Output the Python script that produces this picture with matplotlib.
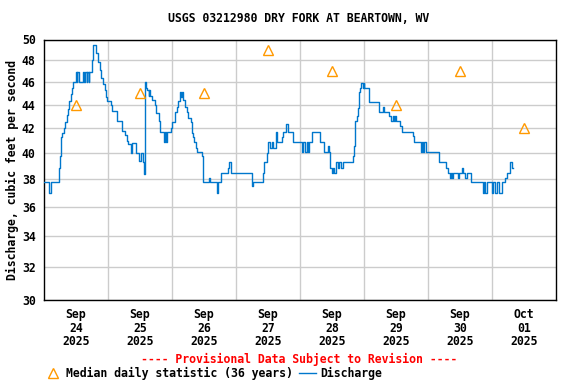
import numpy as np
import matplotlib
matplotlib.use("Agg")
import matplotlib.pyplot as plt
import matplotlib.dates as mdates
from matplotlib.lines import Line2D
from matplotlib.ticker import FixedLocator, NullLocator, FixedFormatter
import datetime as dt

title = "USGS 03212980 DRY FORK AT BEARTOWN, WV"
start = dt.datetime(2025, 9, 24, 0, 0)

# Discharge (step breakpoints): hours after Sep 24 00:00, value in cfs
q_hours = [0, 1.9, 2.75, 5.75, 6, 6.5, 6.9, 7.5, 7.75, 8.5, 9, 9.4, 10, 10.5, 10.75,
           11.9, 12.2, 12.5, 13.0, 14.6, 15.0, 15.5, 16.0, 16.3, 16.7, 17.0, 17.5, 17.9, 18.5,
           19.6, 20.25, 20.9, 21.5, 22.1, 22.75, 23.25, 23.5, 25, 25.6, 27.5, 29.4, 30.5,
           31, 31.5, 32.5, 33.1, 34.4, 35.6, 36.25, 37.25, 37.6, 37.7, 38.1, 38.75, 39.2,
           39.5, 39.75, 40.6, 41.5, 42.1, 43, 43.6, 45, 45.4, 45.8, 46.25,
           47.25, 47.5, 48.1, 49.1, 49.75, 50.4, 51, 51.1, 51.5, 51.7, 52.0, 52.25, 52.9,
           53.5, 54.1, 55, 55.4, 56, 56.4, 57, 57.25, 59.1, 59.5, 59.75, 62, 62.25,
           64.75, 65, 65.4, 66.4, 69.1, 69.5, 70, 77.9, 78.2, 82, 82.6, 83.5, 84.1,
           84.75, 85.4, 86, 87, 87.5, 89.1, 89.5, 90.75, 91.6, 93.25,
           96.75, 97.25, 98, 98.5, 98.9, 99.5, 100.5, 103.5, 105.1, 106.4, 106.75,
           107.4, 107.9, 108.5, 108.9, 109.5, 110.1, 110.75, 111.4, 112, 115.75,
           116.1, 116.6, 116.75, 117.25, 117.6, 118, 118.25, 118.6, 119, 119.5, 119.9,
           120.1, 122, 125.75, 127.25, 127.6, 129.5, 130.1, 130.75, 131.4, 131.75, 132,
           133.6, 134.25, 138.25, 138.9, 141.4, 141.75, 142.2, 142.6, 143.25,
           148, 150.9, 151.4, 152.1, 152.6, 153, 153.25, 155.25, 155.75, 156.75, 157,
           158, 158.6, 160.1, 164.6, 165.1, 165.5, 166.1, 168, 168.4, 169.25, 169.9,
           170.5, 171.75, 173, 173.6, 174.6, 174.9, 175.5, 175.75]
q_values = [37.8, 37.0, 37.8, 38.9, 39.8, 41.3, 41.6, 42.05, 42.5, 43.1, 43.6, 44.3, 44.9, 45.5, 46.0,
            46.9, 46.0, 46.9, 46.0, 46.9, 46.0, 46.9, 46.0, 46.9, 46.0, 46.9, 46.9, 48.0, 49.5,
            48.7, 47.8, 47.1, 46.4, 45.8, 45.3, 44.7, 44.3, 44.0, 43.5, 42.6, 41.8, 41.5,
            41.0, 40.7, 40.05, 40.8, 40.05, 39.4, 40.05, 39.3, 38.4, 46.0, 45.5, 45.3, 44.8,
            45.3, 44.8, 44.4, 44.0, 43.3, 42.6, 41.7, 40.9, 41.7, 40.9, 41.7,
            41.7, 42.0, 42.5, 43.4, 43.8, 44.3, 44.7, 45.1, 44.7, 45.1, 44.7, 44.4, 43.8,
            43.4, 42.9, 42.5, 41.6, 41.3, 40.9, 40.4, 40.1, 39.8, 39.3, 37.8, 38.1, 37.8,
            37.5, 37.0, 37.8, 38.5, 38.9, 39.3, 38.5, 37.5, 37.8, 38.5, 39.3, 40.0, 40.9,
            40.4, 40.9, 40.4, 41.7, 40.9, 41.3, 41.7, 42.4, 41.7, 40.9,
            40.1, 40.9, 40.1, 40.9, 40.1, 40.9, 41.7, 40.9, 40.1, 40.6, 40.1,
            38.9, 38.5, 38.9, 38.5, 39.3, 38.9, 39.3, 38.9, 39.3, 39.8,
            40.6, 40.9, 42.6, 43.0, 43.7, 44.3, 45.1, 45.5, 45.9, 45.5, 45.9,
            45.5, 44.2, 43.4, 43.8, 43.4, 43.0, 42.6, 43.0, 42.6, 43.0, 42.6,
            42.2, 41.7, 41.4, 40.9, 40.1, 40.9, 40.1, 40.9, 40.1,
            39.3, 38.9, 38.5, 38.1, 38.5, 38.1, 38.5, 38.1, 38.5, 38.9, 38.5,
            38.1, 38.5, 37.8, 37.0, 37.8, 37.0, 37.8, 37.0, 37.8, 37.0, 37.8,
            37.0, 37.8, 38.1, 38.5, 38.9, 39.3, 38.9, 38.9]

# Median daily statistic (36 years), plotted at noon
median_days = ["2025-09-24", "2025-09-25", "2025-09-26", "2025-09-27",
               "2025-09-28", "2025-09-29", "2025-09-30", "2025-10-01"]
median_values = [44.0, 45.0, 45.0, 49.0, 47.0, 44.0, 47.0, 42.0]

x_tick_labels = ["Sep\n24\n2025", "Sep\n25\n2025", "Sep\n26\n2025", "Sep\n27\n2025",
                 "Sep\n28\n2025", "Sep\n29\n2025", "Sep\n30\n2025", "Oct\n01\n2025"]
y_ticks = [30, 32, 34, 36, 38, 40, 42, 44, 46, 48, 50]

FONT = "DejaVu Sans Mono"
FS = 8.3
plt.rcParams["font.family"] = FONT
plt.rcParams["font.weight"] = "bold"

fig = plt.figure(figsize=(5.76, 3.84), dpi=100)
ax = fig.add_axes([44/576, 84/384, 512/576, 260.5/384])

qt = [start + dt.timedelta(hours=h) for h in q_hours]
ax.plot(qt, q_values, drawstyle="steps-post", color="#0077CC", lw=1.0, zorder=3)

mt = [dt.datetime.strptime(d, "%Y-%m-%d") + dt.timedelta(hours=12) for d in median_days]
ax.plot(mt, median_values, linestyle="none", marker="^", markersize=7.5,
        markerfacecolor="none", markeredgecolor="#FF9900", markeredgewidth=1.0, zorder=4)

ax.set_yscale("log")
ax.set_ylim(30, 50)
ax.yaxis.set_major_locator(FixedLocator(y_ticks))
ax.yaxis.set_major_formatter(FixedFormatter([str(v) for v in y_ticks]))
ax.yaxis.set_minor_locator(NullLocator())

x0 = mdates.date2num(start)
ax.set_xlim(x0, x0 + 8)
ax.set_xticks([x0 + i + 0.5 for i in range(8)])
ax.set_xticklabels(x_tick_labels, fontsize=FS, fontweight="bold", linespacing=1.05)
ax.set_xticks([x0 + i for i in range(1, 8)], minor=True)

ax.grid(True, which="major", axis="y", color="#CCCCCC", lw=1.0)
ax.grid(True, which="minor", axis="x", color="#CCCCCC", lw=1.0)
ax.tick_params(axis="both", which="both", length=0)
ax.tick_params(axis="y", labelsize=FS, pad=6)
ax.tick_params(axis="x", pad=6)
for lbl in ax.get_yticklabels():
    lbl.set_fontweight("bold")
for s in ax.spines.values():
    s.set_linewidth(1.0)
    s.set_color("black")

ax.set_ylabel("Discharge, cubic feet per second", fontsize=FS, fontweight="bold", labelpad=2)
fig.text(299/576, 1 - 19/384, title, ha="center", va="center", fontsize=FS, fontweight="bold")

fig.text(299/576, 1 - 359/384, "---- Provisional Data Subject to Revision ----",
         ha="center", va="center", color="red", fontsize=FS, fontweight="bold")

handles = [Line2D([], [], linestyle="none", marker="^", markersize=7.5, markerfacecolor="none",
                  markeredgecolor="#FF9900", markeredgewidth=1.0),
           Line2D([], [], color="#0077CC", lw=1.0)]
fig.legend(handles, ["Median daily statistic (36 years)", "Discharge"],
           loc="center left", bbox_to_anchor=(44/576, 1 - 373/384), ncol=2, frameon=False,
           fontsize=FS, handlelength=1.5, handletextpad=0.4, columnspacing=0.5,
           borderpad=0, borderaxespad=0)

fig.savefig("out.png", dpi=100)
